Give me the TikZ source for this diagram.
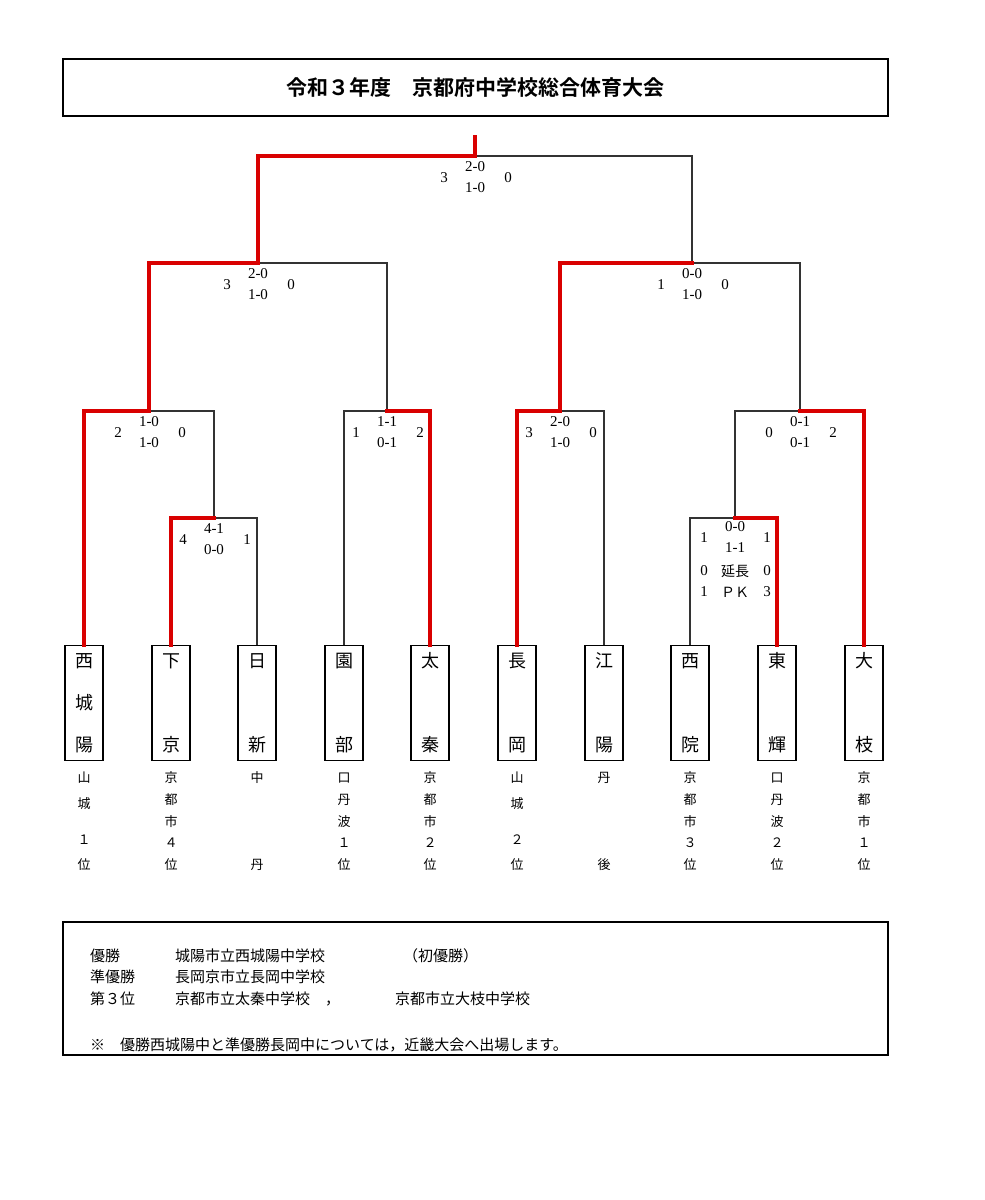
\documentclass[tikz,border=0pt]{standalone}
\usepackage{fontspec}
\setmainfont{Noto Sans CJK JP}
\newfontfamily\jpb{Noto Sans CJK JP Bold}
\newfontfamily\digs{Liberation Serif}
\begin{document}
\begin{tikzpicture}[x=1pt,y=-1pt,
 blk/.style={draw=black!80,line width=1.3pt},
 win/.style={draw=red!85!black,line width=4.5pt,line cap=rect},
 team/.style={draw=black,line width=1.3pt,minimum width=38pt,minimum height=115pt,inner sep=0pt,anchor=north},
 tch/.style={font=\fontsize{18}{18}\selectfont,inner sep=0pt},
 sc/.style={font=\digs\fontsize{15}{15}\selectfont,inner sep=0pt},
 scj/.style={font=\fontsize{14}{14}\selectfont,inner sep=0pt},
 lab/.style={font=\fontsize{13}{13}\selectfont,inner sep=0pt},
 txt/.style={font=\fontsize{15}{15}\selectfont,inner sep=0pt,anchor=west}]
\useasboundingbox (0,0) rectangle (985,1200);
\fill[white] (0,0) rectangle (985,1200);
\node[draw,line width=1.5pt,minimum width=825pt,minimum height=57pt,anchor=north west,inner sep=0pt] (title) at (62,58) {};
\node[font=\jpb\fontsize{21}{21}\selectfont] (tt) at (475,88) {令和３年度　京都府中学校総合体育大会};
% teams
\foreach \n/\x in {1/84,2/171,3/257,4/344,5/430,6/517,7/604,8/690,9/777,10/864}{
  \node[team] (t\n) at (\x,645) {};
}
\node[tch] (c1a) at (84,661) {西};\node[tch] (c1b) at (84,703) {城};\node[tch] (c1c) at (84,745) {陽};
\node[tch] (c2a) at (171,661) {下};\node[tch] (c2b) at (171,745) {京};
\node[tch] (c3a) at (257,661) {日};\node[tch] (c3b) at (257,745) {新};
\node[tch] (c4a) at (344,661) {園};\node[tch] (c4b) at (344,745) {部};
\node[tch] (c5a) at (430,661) {太};\node[tch] (c5b) at (430,745) {秦};
\node[tch] (c6a) at (517,661) {長};\node[tch] (c6b) at (517,745) {岡};
\node[tch] (c7a) at (604,661) {江};\node[tch] (c7b) at (604,745) {陽};
\node[tch] (c8a) at (690,661) {西};\node[tch] (c8b) at (690,745) {院};
\node[tch] (c9a) at (777,661) {東};\node[tch] (c9b) at (777,745) {輝};
\node[tch] (c10a) at (864,661) {大};\node[tch] (c10b) at (864,745) {枝};
% region labels
\foreach \x/\a/\b/\c/\d/\e in {171/京/都/市/４/位,430/京/都/市/２/位,690/京/都/市/３/位,864/京/都/市/１/位,344/口/丹/波/１/位,777/口/丹/波/２/位}{
  \node[lab] at (\x,778) {\a};\node[lab] at (\x,800) {\b};\node[lab] at (\x,822) {\c};\node[lab] at (\x,843) {\d};\node[lab] at (\x,865) {\e};
}
\foreach \x/\a/\b/\c/\d in {84/山/城/１/位,517/山/城/２/位}{
  \node[lab] at (\x,778) {\a};\node[lab] at (\x,804) {\b};\node[lab] at (\x,840) {\c};\node[lab] at (\x,865) {\d};
}
\node[lab] (l3a) at (257,778) {中};\node[lab] (l3b) at (257,865) {丹};
\node[lab] (l7a) at (604,778) {丹};\node[lab] (l7b) at (604,865) {後};
% match points
\coordinate (ra) at (214,518);
\coordinate (rb) at (735,518);
\coordinate (q1) at (149,411);
\coordinate (q2) at (387,411);
\coordinate (q3) at (560,411);
\coordinate (q4) at (800,411);
\coordinate (s1) at (258,263);
\coordinate (s2) at (692,263);
\coordinate (f) at (475,156);
\coordinate (top) at (475,137);
% black bracket
\draw[blk] (t2.north) |- (ra) -| (t3.north);
\draw[blk] (t8.north) |- (rb) -| (t9.north);
\draw[blk] (t1.north) |- (q1) -| (ra);
\draw[blk] (t4.north) |- (q2) -| (t5.north);
\draw[blk] (t6.north) |- (q3) -| (t7.north);
\draw[blk] (rb) |- (q4) -| (t10.north);
\draw[blk] (q1) |- (s1) -| (q2);
\draw[blk] (q3) |- (s2) -| (q4);
\draw[blk] (s1) |- (f) -| (s2);
% winners
\draw[win] (t2.north) |- (ra);
\draw[win] (rb) -| (t9.north);
\draw[win] (t1.north) |- (q1);
\draw[win] (q2) -| (t5.north);
\draw[win] (t6.north) |- (q3);
\draw[win] (q4) -| (t10.north);
\draw[win] (q1) |- (s1);
\draw[win] (q3) |- (s2);
\draw[win] (s1) |- (f) -- (top);
% scores
\foreach \m/\x/\y/\l/\u/\d/\r in {f/475/156/3/2-0/1-0/0, s1/258/263/3/2-0/1-0/0, s2/692/263/1/0-0/1-0/0, q1/149/411/2/1-0/1-0/0, q2/387/411/1/1-1/0-1/2, q3/560/411/3/2-0/1-0/0, q4/800/411/0/0-1/0-1/2, ra/214/518/4/4-1/0-0/1}{
  \node[sc] at (\x-31,\y+22) {\l};
  \node[sc] at (\x,\y+11) {\u};
  \node[sc] at (\x,\y+32) {\d};
  \node[sc] at (\x+33,\y+22) {\r};
}
\node[sc] at (735,527) {0-0};\node[sc] at (735,548) {1-1};\node[scj] at (735,571) {延長};\node[scj] at (735,592) {ＰＫ};
\node[sc] at (704,538) {1};\node[sc] at (704,571) {0};\node[sc] at (704,592) {1};
\node[sc] at (767,538) {1};\node[sc] at (767,571) {0};\node[sc] at (767,592) {3};
% result box
\node[draw,line width=1.5pt,minimum width=825pt,minimum height=133pt,anchor=north west,inner sep=0pt] (res) at (62,921) {};
\node[txt] at (90,956) {優勝};\node[txt] at (175,956) {城陽市立西城陽中学校};\node[txt] at (403,956) {（初優勝）};
\node[txt] at (90,977) {準優勝};\node[txt] at (175,977) {長岡京市立長岡中学校};
\node[txt] at (90,999) {第３位};\node[txt] at (175,999) {京都市立太秦中学校　，};\node[txt] at (395,999) {京都市立大枝中学校};
\node[txt] at (90,1045) {※　優勝西城陽中と準優勝長岡中については，近畿大会へ出場します。};
\end{tikzpicture}
\end{document}
